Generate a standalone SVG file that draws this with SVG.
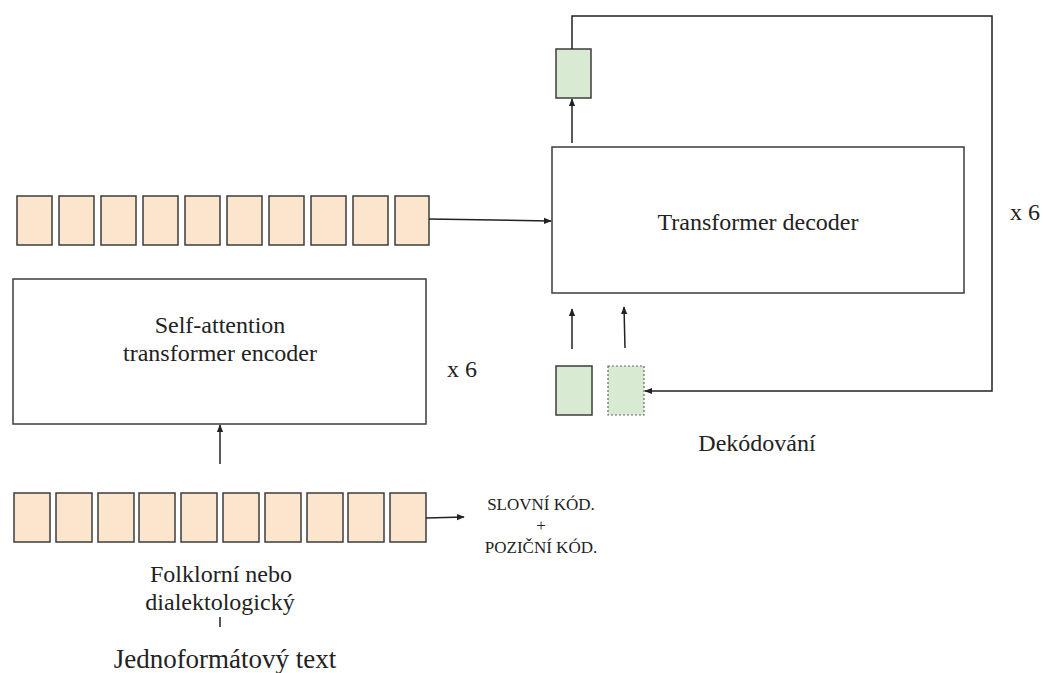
<svg xmlns="http://www.w3.org/2000/svg" width="1043" height="673" viewBox="0 0 1043 673">
<style>
.tok{fill:#fce5cd;stroke:#3d3d3d;stroke-width:1.5}
.g{fill:#d9ead3;stroke:#3d3d3d;stroke-width:1.5}
.gd{fill:#d9ead3;stroke:#666;stroke-width:1.2;stroke-dasharray:2 2}
.blk{fill:#fff;stroke:#3d3d3d;stroke-width:1.5}
.c{fill:none;stroke:#222;stroke-width:1.5}
.t{font-family:"Liberation Serif",serif;font-size:24px;text-anchor:middle;fill:#222}
.s{font-family:"Liberation Serif",serif;font-size:17px;text-anchor:middle;fill:#222}
</style>
<defs>
<marker id="ah" viewBox="0 0 10 10" refX="9" refY="5" markerWidth="8" markerHeight="8" markerUnits="userSpaceOnUse" orient="auto">
<path d="M0,1 L10,5 L0,9 z" fill="#222"/>
</marker>
</defs>
<g id="top-tokens">
<rect class="tok" x="17" y="196" width="35" height="49"/>
<rect class="tok" x="59" y="196" width="35" height="49"/>
<rect class="tok" x="101" y="196" width="35" height="49"/>
<rect class="tok" x="143" y="196" width="35" height="49"/>
<rect class="tok" x="185" y="196" width="35" height="49"/>
<rect class="tok" x="227" y="196" width="35" height="49"/>
<rect class="tok" x="269" y="196" width="35" height="49"/>
<rect class="tok" x="311" y="196" width="35" height="49"/>
<rect class="tok" x="353" y="196" width="35" height="49"/>
<rect class="tok" x="395" y="196" width="34" height="49"/>
</g>
<g id="bottom-tokens">
<rect class="tok" x="14" y="493" width="36" height="49"/>
<rect class="tok" x="56" y="493" width="36" height="49"/>
<rect class="tok" x="98" y="493" width="36" height="49"/>
<rect class="tok" x="139" y="493" width="36" height="49"/>
<rect class="tok" x="181" y="493" width="36" height="49"/>
<rect class="tok" x="223" y="493" width="36" height="49"/>
<rect class="tok" x="265" y="493" width="36" height="49"/>
<rect class="tok" x="307" y="493" width="36" height="49"/>
<rect class="tok" x="348" y="493" width="36" height="49"/>
<rect class="tok" x="390" y="493" width="36" height="49"/>
</g>
<g id="encoder">
<rect class="blk" x="13" y="279" width="413" height="145"/>
<text class="t" x="220" y="333">Self-attention</text>
<text class="t" x="220" y="361">transformer encoder</text>
</g>
<g id="encoder-repeat"><text class="t" x="462" y="377">x 6</text></g>
<g id="decoder">
<rect class="blk" x="552" y="147" width="412" height="146"/>
<text class="t" x="758" y="230">Transformer decoder</text>
</g>
<g id="decoder-repeat"><text class="t" x="1025" y="220">x 6</text></g>
<g id="embedding-label">
<text class="s" x="541" y="510">SLOVNÍ KÓD.</text>
<text class="s" x="541" y="531">+</text>
<text class="s" x="541" y="553">POZIČNÍ KÓD.</text>
</g>
<g id="decoding-label"><text class="t" x="757" y="451">Dekódování</text></g>
<g id="input-label">
<text class="t" x="221" y="582">Folklorní nebo</text>
<text class="t" x="220" y="610">dialektologický</text>
<text class="t" x="225" y="668" style="font-size:27px">Jednoformátový text</text>
</g>
<g id="output-token"><rect class="g" x="556" y="49" width="35" height="49"/></g>
<g id="input-token"><rect class="g" x="556" y="366" width="36" height="49"/></g>
<g id="next-token"><rect class="gd" x="608" y="366" width="36" height="49"/></g>
<g id="connectors">
<path class="c" d="M429,219 L551,221" marker-end="url(#ah)"/>
<path class="c" d="M426,518 L464,517" marker-end="url(#ah)"/>
<path class="c" d="M220,464 L220,425" marker-end="url(#ah)"/>
<path class="c" d="M572,143 L572,99" marker-end="url(#ah)"/>
<path class="c" d="M572,49 L572,16 L992,16 L992,391 L645,391" marker-end="url(#ah)"/>
<path class="c" d="M572,349 L572,309" marker-end="url(#ah)"/>
<path class="c" d="M625,348 L624,307" marker-end="url(#ah)"/>
<path class="c" d="M220,617 L220,627"/>
</g>
</svg>
